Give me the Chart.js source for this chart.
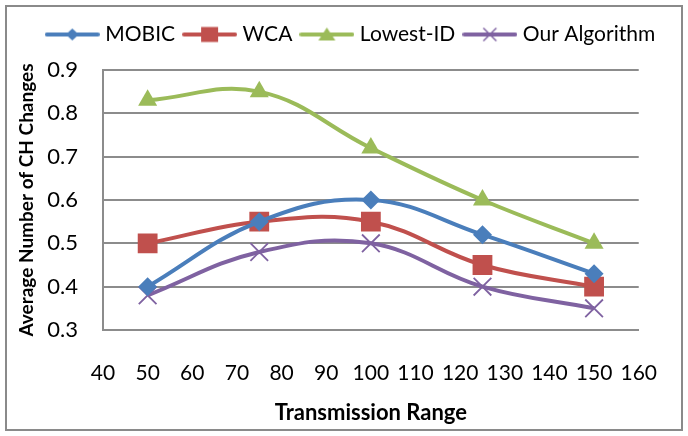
<!DOCTYPE html>
<html>
<head>
<meta charset="utf-8">
<script src="https://cdn.jsdelivr.net/npm/chart.js@4/dist/chart.umd.min.js"></script>
<style>
  html, body { margin: 0; padding: 0; background: #fff; }
  #wrap { position: relative; width: 688px; height: 436px; }
  #frame { position: absolute; left: 5px; top: 5px; width: 674px; height: 422px; border: 2px solid #8a8a8a; pointer-events: none; }
  canvas { position: absolute; left: 0; top: 0; }
</style>
</head>
<body>
<div id="wrap">
  <canvas id="chart" width="688" height="436"></canvas>
  <div id="frame"></div>
</div>
<script>
// transmission range values and series
const ranges = [50, 75, 100, 125, 150];
const mobic = [0.40, 0.55, 0.60, 0.52, 0.43];
const wca = [0.50, 0.55, 0.55, 0.45, 0.40];
const lowestId = [0.83, 0.85, 0.72, 0.60, 0.50];
const ourAlgorithm = [0.38, 0.48, 0.50, 0.40, 0.35];
const seriesNames = ['MOBIC', 'WCA', 'Lowest-ID', 'Our Algorithm'];
const xTicks = [40, 50, 60, 70, 80, 90, 100, 110, 120, 130, 140, 150, 160];
const yTicks = [0.3, 0.4, 0.5, 0.6, 0.7, 0.8, 0.9];

const colors = ['#4a7ebb', '#c0504d', '#9bbb59', '#7f62a1'];
const styles = ['rectRot', 'rect', 'triangle', 'crossRot'];
const radii = [9.5, 14, 11, 12.5];
const font = 'Lato, "DejaVu Sans", sans-serif';

function points(values) {
  return values.map((v, i) => ({ x: ranges[i], y: v }));
}

// legend swatch: line with the marker in the middle, like the office legend
function legendSwatch(i) {
  const c = document.createElement('canvas');
  c.width = 55; c.height = 24;
  const g = c.getContext('2d');
  g.strokeStyle = colors[i];
  g.lineWidth = 4;
  g.lineCap = 'round';
  g.beginPath(); g.moveTo(2, 12); g.lineTo(53, 12); g.stroke();
  g.fillStyle = colors[i];
  if (styles[i] === 'rectRot') {
    g.beginPath(); g.moveTo(27.5, 6); g.lineTo(34, 12); g.lineTo(27.5, 18); g.lineTo(21, 12); g.closePath(); g.fill();
  } else if (styles[i] === 'rect') {
    g.fillRect(19, 4.5, 17, 15);
  } else if (styles[i] === 'triangle') {
    g.beginPath(); g.moveTo(27.5, 5); g.lineTo(36, 18); g.lineTo(19, 18); g.closePath(); g.fill();
  } else {
    g.lineWidth = 1.5;
    g.lineCap = 'butt';
    g.beginPath(); g.moveTo(21, 5.5); g.lineTo(34, 18.5); g.moveTo(34, 5.5); g.lineTo(21, 18.5); g.stroke();
  }
  return c;
}

const allData = [mobic, wca, lowestId, ourAlgorithm];
const datasets = allData.map((vals, i) => ({
  label: seriesNames[i],
  data: points(vals),
  borderColor: colors[i],
  backgroundColor: colors[i],
  borderWidth: 4,
  tension: 0.4,
  pointStyle: styles[i],
  pointRadius: radii[i],
  pointBorderWidth: styles[i] === 'crossRot' ? 1.8 : 0,
  pointBorderColor: colors[i],
  fill: false
}));

// fixed legend band height, and legend centred on the whole frame like the original
const legendBox = {
  id: 'legendBox',
  beforeInit(chart) {
    const fit = chart.legend.fit;
    chart.legend.fit = function() {
      fit.call(this);
      this.height = 58;
    };
  },
  afterLayout(chart) {
    chart.legend.left += 26;
    chart.legend.right += 26;
  }
};

new Chart(document.getElementById('chart').getContext('2d'), {
  type: 'line',
  data: { datasets: datasets },
  plugins: [legendBox],
  options: {
    responsive: false,
    animation: false,
    layout: { padding: { left: 10, right: 45, top: 12, bottom: 10 } },
    plugins: {
      tooltip: { enabled: false },
      legend: {
        position: 'top',
        labels: {
          usePointStyle: true,
          pointStyleWidth: 45,
          padding: 12,
          color: '#000',
          font: { family: font, size: 21 },
          generateLabels(chart) {
            return chart.data.datasets.map((ds, i) => ({
              text: ds.label,
              pointStyle: legendSwatch(i),
              fillStyle: colors[i],
              strokeStyle: colors[i],
              lineWidth: 0,
              datasetIndex: i,
              fontColor: '#000'
            }));
          }
        }
      }
    },
    scales: {
      x: {
        type: 'linear',
        min: 40,
        max: 160,
        afterBuildTicks(scale) { scale.ticks = xTicks.map(v => ({ value: v })); },
        afterFit(scale) { scale.height = 96; },
        grid: { display: false, drawTicks: false },
        border: { display: true, color: '#8c8c8c', width: 2 },
        ticks: {
          autoSkip: false,
          maxRotation: 0,
          padding: 31,
          color: '#000',
          font: { family: font, size: 21 }
        },
        title: {
          display: true,
          text: 'Transmission Range',
          color: '#000',
          padding: { top: 0, bottom: 0 },
          font: { family: font, size: 22, weight: 'bold' }
        }
      },
      y: {
        min: 0.3,
        max: 0.9,
        afterBuildTicks(scale) { scale.ticks = yTicks.map(v => ({ value: v })); },
        afterFit(scale) { scale.width = 93; },
        grid: { color: '#8c8c8c', lineWidth: 2, drawTicks: false },
        border: { display: true, color: '#8c8c8c', width: 2 },
        ticks: {
          padding: 25,
          color: '#000',
          font: { family: font, size: 22 },
          callback: v => v.toFixed(1)
        },
        title: {
          display: true,
          text: 'Average Number of CH Changes',
          color: '#000',
          padding: { top: 5, bottom: 0 },
          font: { family: font, size: 19, weight: 'bold' }
        }
      }
    }
  }
});
</script>
</body>
</html>
